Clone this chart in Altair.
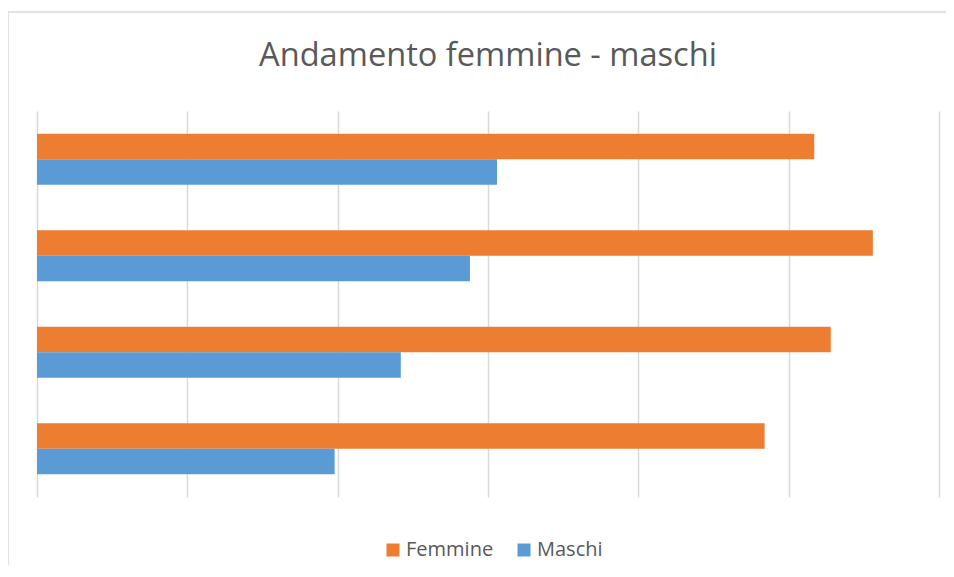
import altair as alt
import pandas as pd

categories = ["1", "2", "3", "4"]  # top to bottom
femmine = [51.7, 55.6, 52.8, 48.4]
maschi = [30.6, 28.8, 24.2, 19.8]
series = ["Femmine", "Maschi"]
colors = ["#ED7D31", "#5B9BD5"]
grid_values = [0, 10, 20, 30, 40, 50, 60]
title_text = "Andamento femmine - maschi"

rows = []
for c, f, m in zip(categories, femmine, maschi):
    rows.append({"cat": c, "serie": "Femmine", "val": f})
    rows.append({"cat": c, "serie": "Maschi", "val": m})
df = pd.DataFrame(rows)

W, H = 902, 386

bars = alt.Chart(df).mark_bar().encode(
    x=alt.X("val:Q",
            scale=alt.Scale(domain=[0, 60], nice=False, zero=True),
            axis=alt.Axis(values=grid_values, grid=True, gridColor="#D9D9D9",
                          gridWidth=1.5, labels=False, ticks=False, domain=False,
                          title=None)),
    y=alt.Y("cat:N", sort=categories,
            scale=alt.Scale(paddingInner=0.47, paddingOuter=0.235), axis=None),
    yOffset=alt.YOffset("serie:N", sort=series,
                        scale=alt.Scale(paddingInner=0, paddingOuter=0)),
    color=alt.Color("serie:N", sort=series,
                    scale=alt.Scale(domain=series, range=colors),
                    legend=alt.Legend(orient="none", legendX=346, legendY=429,
                                      direction="horizontal", symbolType="square",
                                      symbolSize=169, symbolStrokeWidth=0,
                                      labelFont="Open Sans", labelFontSize=20,
                                      labelColor="#595959", labelOffset=3,
                                      columnPadding=20, title=None, padding=0,
                                      symbolOffset=0)),
)

title = alt.Chart(pd.DataFrame({"t": [title_text]})).mark_text(
    font="Open Sans", fontSize=32.6, color="#595959", baseline="alphabetic",
    align="center"
).encode(text="t:N", x=alt.value(W / 2), y=alt.value(66 - 111))

frame = alt.Chart(pd.DataFrame({"a": [0]})).mark_rect(
    fillOpacity=0, stroke="#D9D9D9", strokeWidth=1.5
).encode(x=alt.value(-29), x2=alt.value(W + 60), y=alt.value(-99), y2=alt.value(H + 150))

chart = alt.layer(frame, bars, title).properties(
    width=W, height=H,
    padding={"left": 29, "top": 103, "right": 7, "bottom": 68},
    autosize=alt.AutoSizeParams(type="none"),
).configure_view(stroke=None)

chart.save("out.html", embed_options={"renderer": "svg", "actions": False})
